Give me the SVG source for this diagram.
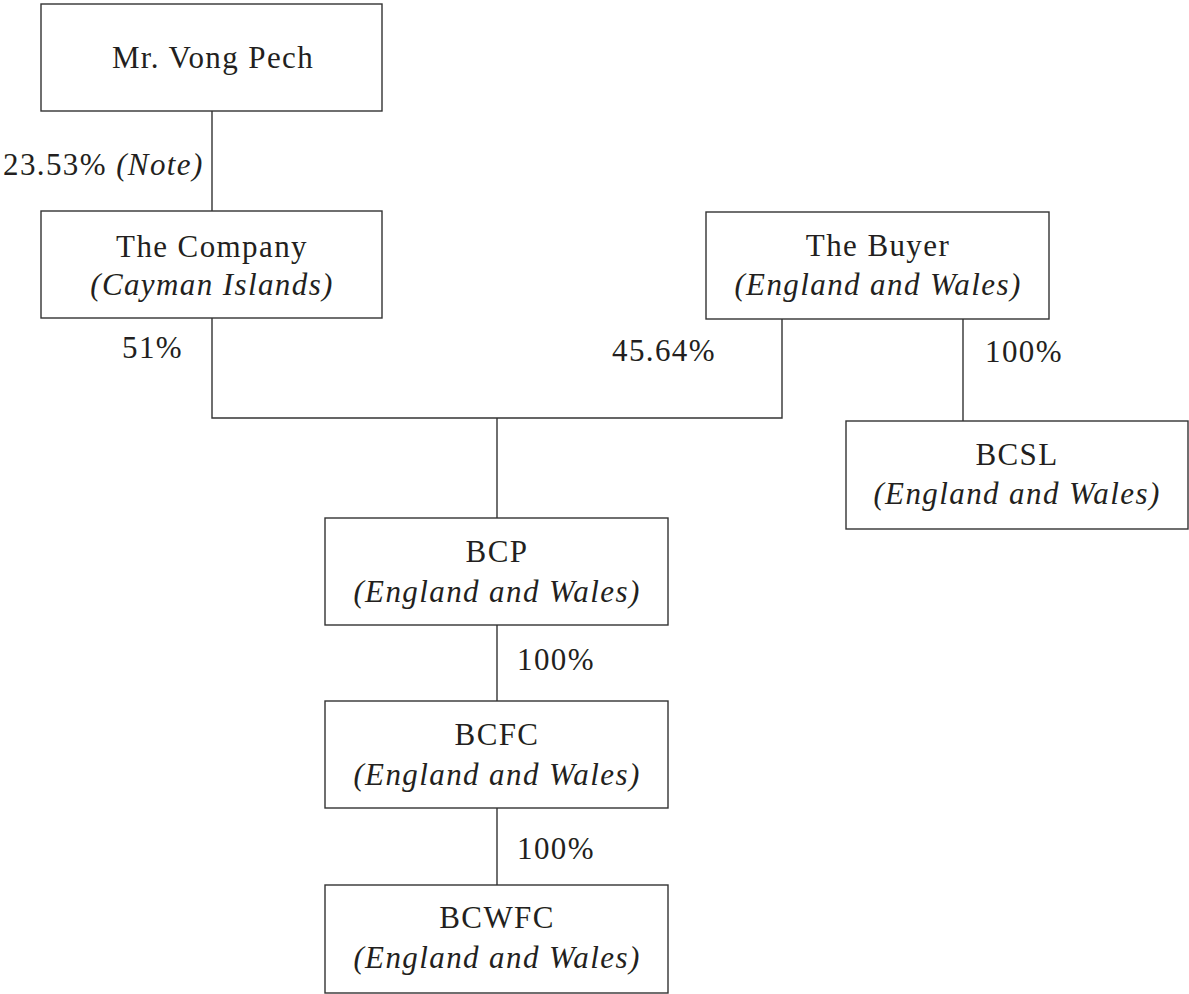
<svg xmlns="http://www.w3.org/2000/svg" width="1189" height="994" viewBox="0 0 1189 994">
<style>
.box{fill:#fff;stroke:#333;stroke-width:1.4}
.ln{fill:none;stroke:#333;stroke-width:1.4}
text{font-family:"Liberation Serif","Times New Roman",serif;font-size:31px;fill:#231f20;letter-spacing:1.4px}
.c{text-anchor:middle}
.i{font-style:italic}
</style>
<rect width="1189" height="994" fill="#fff"/>
<g id="connectors">
<path class="ln" d="M212 111V211"/>
<path class="ln" d="M212 318V418H782V319"/>
<path class="ln" d="M497 418V518"/>
<path class="ln" d="M963 319V421"/>
<path class="ln" d="M497 625V701"/>
<path class="ln" d="M497 808V885"/>
<text x="3" y="175">23.53% <tspan class="i">(Note)</tspan></text>
<text x="122" y="358">51%</text>
<text x="612" y="361">45.64%</text>
<text x="985" y="362">100%</text>
<text x="517" y="670">100%</text>
<text x="517" y="859">100%</text>
</g>
<g id="vongpech">
<rect class="box" x="41" y="4" width="341" height="107"/>
<text class="c" x="213" y="68" letter-spacing="2">Mr. Vong Pech</text>
</g>
<g id="company">
<rect class="box" x="41" y="211" width="341" height="107"/>
<text class="c" x="212" y="257">The Company</text>
<text class="c i" x="212" y="295">(Cayman Islands)</text>
</g>
<g id="buyer">
<rect class="box" x="706" y="212" width="343" height="107"/>
<text class="c" x="878" y="256">The Buyer</text>
<text class="c i" x="878" y="295">(England and Wales)</text>
</g>
<g id="bcsl">
<rect class="box" x="846" y="421" width="342" height="108"/>
<text class="c" x="1017" y="465">BCSL</text>
<text class="c i" x="1017" y="504">(England and Wales)</text>
</g>
<g id="bcp">
<rect class="box" x="325" y="518" width="343" height="107"/>
<text class="c" x="497" y="562">BCP</text>
<text class="c i" x="497" y="602">(England and Wales)</text>
</g>
<g id="bcfc">
<rect class="box" x="325" y="701" width="343" height="107"/>
<text class="c" x="497" y="745">BCFC</text>
<text class="c i" x="497" y="785">(England and Wales)</text>
</g>
<g id="bcwfc">
<rect class="box" x="325" y="885" width="343" height="108"/>
<text class="c" x="497" y="928">BCWFC</text>
<text class="c i" x="497" y="968">(England and Wales)</text>
</g>
</svg>
